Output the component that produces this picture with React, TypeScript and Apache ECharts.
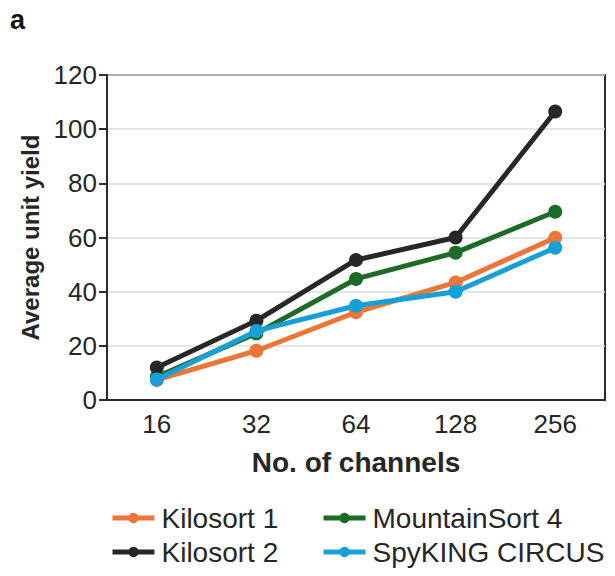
import React, { useEffect, useRef } from "react";
import * as echarts from "echarts";

const categories = ["16", "32", "64", "128", "256"];
const kilosort1 = [7.4, 18.2, 32.4, 43.4, 59.9];
const kilosort2 = [12.0, 29.3, 51.7, 60.0, 106.5];
const mountainSort4 = [8.6, 24.6, 44.7, 54.4, 69.5];
const spyKingCircus = [7.6, 25.5, 34.8, 40.0, 56.2];

const FONT = "'Liberation Sans', Arial, sans-serif";
const AXIS = "#2b2b2b";
const TXT = "#262626";

export default function App() {
  const ref = useRef<HTMLDivElement>(null);
  useEffect(() => {
    if (!ref.current) return;
    const chart = echarts.init(ref.current, undefined, { renderer: "svg" });
    const mk = (name: string, data: number[], color: string, z: number) => ({
      name,
      type: "line",
      data,
      z,
      symbol: "circle",
      symbolSize: 14,
      color,
      lineStyle: { width: 5, color },
      itemStyle: { color },
    });
    const legendBase = {
      orient: "vertical",
      top: 499,
      itemWidth: 42,
      itemHeight: 13,
      itemGap: 6,
      lineStyle: { width: 5 },
      textStyle: { fontSize: 28, color: TXT, fontFamily: FONT, padding: [0, 0, 0, 2] },
    };
    chart.setOption({
      animation: false,
      textStyle: { fontFamily: FONT },
      graphic: [
        {
          type: "text",
          left: 10,
          top: 6,
          style: { text: "a", font: `bold 27px ${FONT}`, fill: "#111" },
        },
      ],
      grid: {
        left: 107,
        right: 10,
        top: 75,
        bottom: 176,
        show: true,
        borderColor: AXIS,
        borderWidth: 2,
      },
      legend: [
        { ...legendBase, data: ["Kilosort 1", "Kilosort 2"], left: 105 },
        { ...legendBase, data: ["MountainSort 4", "SpyKING CIRCUS"], left: 316 },
      ],
      xAxis: {
        type: "category",
        data: categories,
        boundaryGap: true,
        name: "No. of channels",
        nameLocation: "middle",
        nameGap: 48,
        nameTextStyle: { fontSize: 28, fontWeight: "bold", color: TXT, fontFamily: FONT },
        axisLine: { lineStyle: { color: AXIS, width: 2 } },
        axisTick: { alignWithLabel: true, length: 7, lineStyle: { color: AXIS, width: 2 } },
        axisLabel: { fontSize: 26, color: TXT, margin: 11, fontFamily: FONT },
      },
      yAxis: {
        type: "value",
        min: 0,
        max: 120,
        interval: 20,
        name: "Average unit yield",
        nameLocation: "middle",
        nameGap: 58,
        nameTextStyle: { fontSize: 24, fontWeight: "bold", color: TXT, fontFamily: FONT },
        axisLine: { show: true, lineStyle: { color: AXIS, width: 2 } },
        axisTick: { show: true, length: 8, lineStyle: { color: AXIS, width: 2 } },
        axisLabel: { fontSize: 26, color: TXT, margin: 10, fontFamily: FONT },
        splitLine: { show: true, lineStyle: { color: "#dcdcdc", width: 1.5 } },
      },
      series: [
        mk("Kilosort 1", kilosort1, "#ec7637", 2),
        mk("MountainSort 4", mountainSort4, "#1c6b26", 3),
        mk("Kilosort 2", kilosort2, "#272727", 4),
        mk("SpyKING CIRCUS", spyKingCircus, "#17a0d8", 5),
      ],
    });
    return () => chart.dispose();
  }, []);
  return (
    <div
      ref={ref}
      style={{ position: "absolute", left: 0, top: 0, width: 615, height: 576, background: "#fff" }}
    />
  );
}
